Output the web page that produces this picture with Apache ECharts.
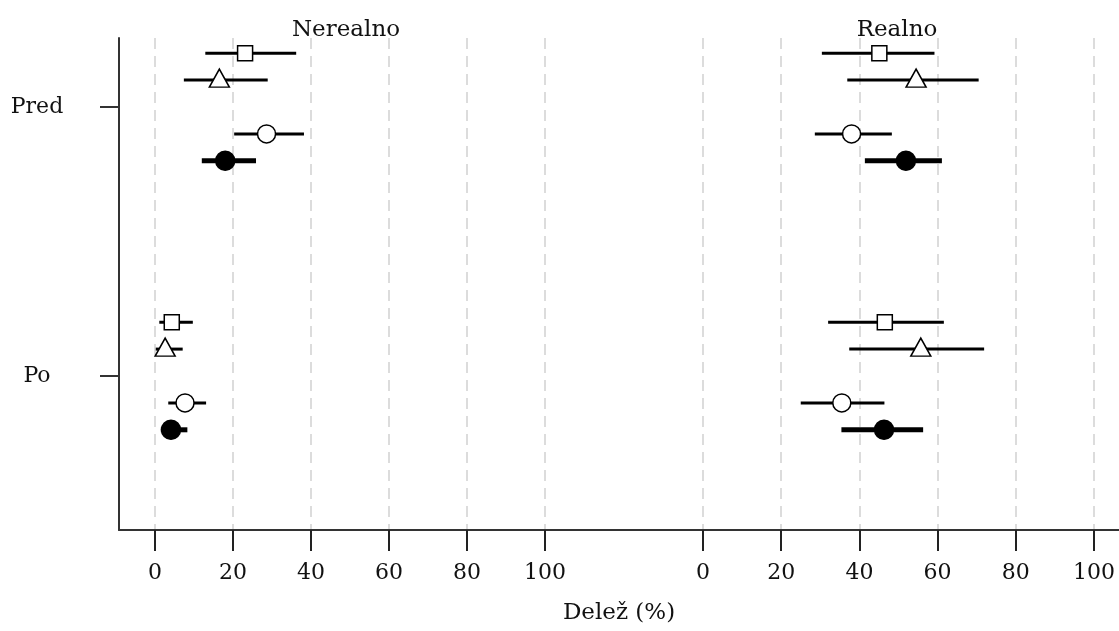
<!DOCTYPE html>
<html>
<head>
<meta charset="utf-8">
<script src="https://cdn.jsdelivr.net/npm/echarts@6/dist/echarts.min.js"></script>
<style>
html,body{margin:0;padding:0;background:#fff;}
#main{width:1119px;height:631px;}
</style>
</head>
<body>
<div id="main"></div>
<script>
// skupini na osi y
var groups = ['Pred', 'Po'];
var groupPos = [1, 2];
// vrstice znotraj skupine: kvadrat, trikotnik, prazen krog, poln krog
var rowOffsets = [-0.2, -0.1, 0.1, 0.2];
var panelTitles = ['Nerealno', 'Realno'];
var xTicks = [0, 20, 40, 60, 80, 100];

// Nerealno: [Pred, Po]
var nerealnoMid  = [[23.1, 4.3], [16.5, 2.6], [28.6, 7.7], [18.0, 4.1]];
var nerealnoLow  = [[12.9, 1.1], [7.4, 0.2],  [20.3, 3.4], [12.0, 1.5]];
var nerealnoHigh = [[36.2, 9.7], [28.9, 7.1], [38.2, 13.1], [25.9, 8.3]];
// Realno: [Pred, Po]
var realnoMid  = [[45.1, 46.5], [54.5, 55.7], [38.0, 35.5], [51.9, 46.3]];
var realnoLow  = [[30.4, 32.0], [36.9, 37.4], [28.6, 25.0], [41.4, 35.4]];
var realnoHigh = [[59.2, 61.6], [70.5, 71.9], [48.3, 46.4], [61.1, 56.3]];

var yMin = 0.7435, yMax = 2.5725;
var font = 'DejaVu Serif';
var textColor = '#111';

var rowSymbols = ['rect', 'triangle', 'circle', 'circle'];
var rowSizes = [15, [20, 18], 18, 19];
var rowFill = ['#fff', '#fff', '#fff', '#000'];
var rowLineWidth = [3, 3, 3, 5];

var chart = echarts.init(document.getElementById('main'));

function panelAxis(idx){
    return {
        type: 'value', gridIndex: idx, min: 0, max: 100, interval: 20,
        axisLine: { show: false },
        axisTick: { show: true, length: 21, lineStyle: { color: '#222', width: 2 } },
        axisLabel: { margin: 32, fontFamily: font, fontSize: 22, color: textColor,
            customValues: xTicks },
        splitLine: { show: true, lineStyle: { color: '#dcdcdc', width: 2, type: [11, 7] } }
    };
}
function hiddenY(idx){
    return { type: 'value', gridIndex: idx, min: yMin, max: yMax, inverse: true, show: false };
}

var series = [];
function addPanel(idx, mid, low, high){
    for(var r = 0; r < rowOffsets.length; r++){
        var lineData = [], pointData = [];
        for(var g = 0; g < groups.length; g++){
            var y = groupPos[g] + rowOffsets[r];
            lineData.push([low[r][g], high[r][g], y]);
            pointData.push([mid[r][g], y]);
        }
        series.push({
            type: 'custom', xAxisIndex: idx, yAxisIndex: idx, z: 2,
            data: lineData,
            renderItem: (function(w){
                return function(params, api){
                    var p1 = api.coord([api.value(0), api.value(2)]);
                    var p2 = api.coord([api.value(1), api.value(2)]);
                    return { type: 'line', shape: { x1: p1[0], y1: p1[1], x2: p2[0], y2: p2[1] },
                        style: { stroke: '#000', lineWidth: w } };
                };
            })(rowLineWidth[r])
        });
        series.push({
            type: 'scatter', xAxisIndex: idx, yAxisIndex: idx, z: 3,
            symbol: rowSymbols[r], symbolSize: rowSizes[r],
            symbolOffset: r === 1 ? [0, -2] : [0, 0],
            itemStyle: { color: rowFill[r], borderColor: '#000', borderWidth: 1.5, opacity: 1 },
            data: pointData
        });
    }
}
addPanel(1, nerealnoMid, nerealnoLow, nerealnoHigh);
addPanel(2, realnoMid, realnoLow, realnoHigh);

var option = {
    backgroundColor: '#fff',
    animation: false,
    grid: [
        { left: 119, right: 0, top: 38, bottom: 101, outerBoundsMode: 'none' },
        { left: 155, width: 390, top: 38, bottom: 101, outerBoundsMode: 'none' },
        { left: 703, width: 391, top: 38, bottom: 101, outerBoundsMode: 'none' }
    ],
    xAxis: [
        {
            type: 'value', gridIndex: 0, min: 0, max: 1,
            axisLine: { show: true, lineStyle: { color: '#333', width: 2 } },
            axisTick: { show: false }, axisLabel: { show: false }, splitLine: { show: false },
            name: 'Delež (%)', nameLocation: 'middle', nameGap: 72,
            nameTextStyle: { fontFamily: font, fontSize: 23, color: textColor }
        },
        panelAxis(1),
        panelAxis(2)
    ],
    yAxis: [
        {
            type: 'value', gridIndex: 0, min: yMin, max: yMax, inverse: true,
            axisLine: { show: true, lineStyle: { color: '#333', width: 2 } },
            axisTick: { show: true, length: 19, customValues: groupPos, lineStyle: { color: '#333', width: 2 } },
            axisLabel: { customValues: groupPos, margin: 82, align: 'center',
                fontFamily: font, fontSize: 22, color: textColor,
                formatter: function(v){ return groups[groupPos.indexOf(v)] || ''; } },
            splitLine: { show: false }
        },
        hiddenY(1),
        hiddenY(2)
    ],
    graphic: [
        { type: 'text', x: 346, y: 30, style: { text: panelTitles[0], font: '23px "' + font + '"', fill: textColor, align: 'center', verticalAlign: 'middle' } },
        { type: 'text', x: 897, y: 30, style: { text: panelTitles[1], font: '23px "' + font + '"', fill: textColor, align: 'center', verticalAlign: 'middle' } }
    ],
    series: series
};
chart.setOption(option);
</script>
</body>
</html>
